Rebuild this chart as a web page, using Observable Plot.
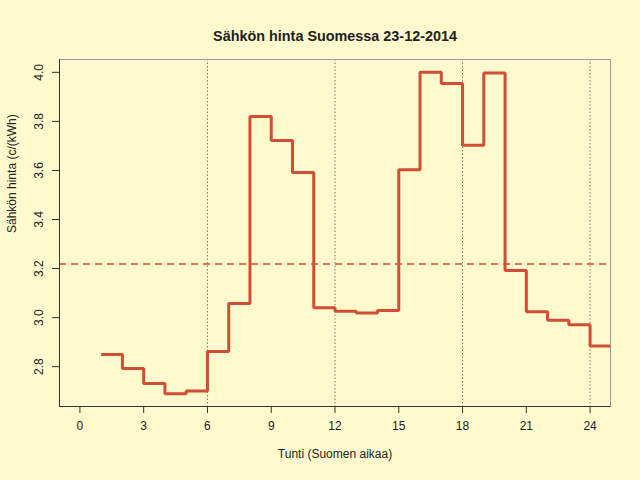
<!DOCTYPE html>
<html><head><meta charset="utf-8">
<script src="https://cdn.jsdelivr.net/npm/d3@7"></script>
<script src="https://cdn.jsdelivr.net/npm/@observablehq/plot@0.6"></script>
<style>
html,body{margin:0;padding:0;background:#FFFACD;}
#chart{width:640px;height:480px;}
</style></head><body><div id="chart"></div>
<script>
const title = "Sähkön hinta Suomessa 23-12-2014";
const xLabel = "Tunti (Suomen aikaa)";
const yLabel = "Sähkön hinta (c/(kWh)";
const hours = [1,2,3,4,5,6,7,8,9,10,11,12,13,14,15,16,17,18,19,20,21,22,23,24];
const prices = [2.850,2.793,2.731,2.690,2.701,2.862,3.058,3.820,3.722,3.592,3.040,3.026,
                3.019,3.029,3.603,4.000,3.955,3.703,3.997,3.192,3.024,2.989,2.971,2.884];
const xTicks = [0,3,6,9,12,15,18,21,24];
const yTicks = [2.8,3.0,3.2,3.4,3.6,3.8,4.0];
const gridHours = [6,12,18,24];
const xLimits = [0,24];

const steps = hours.map((h,i)=>({hour:h, price:prices[i]}));
steps.push({hour: hours[hours.length-1]+1, price: prices[prices.length-1]});
const meanPrice = d3.mean(prices);
const ext = (lo,hi)=>{const d=(hi-lo)*0.04; return [lo-d, hi+d];};
const xDomain = ext(xLimits[0], xLimits[1]);
const yDomain = ext(d3.min(prices), d3.max(prices));

const lineColor = "#D24D35";
const font = "'Liberation Sans', Arial, Helvetica, sans-serif";

const chart = Plot.plot({
  width: 640, height: 480,
  marginLeft: 59, marginRight: 30, marginTop: 59, marginBottom: 74,
  style: {background: "#FFFACD", fontFamily: font, fontSize: "12px", color: "#222"},
  x: {domain: xDomain},
  y: {domain: yDomain},
  marks: [
    Plot.ruleX(gridHours, {stroke: "#777", strokeDasharray: "1.5,2", strokeWidth: 1}),
    Plot.ruleY([meanPrice], {stroke: lineColor, strokeWidth: 1.5, strokeDasharray: "7,5"}),
    Plot.line(steps, {x: "hour", y: "price", curve: "step-after", stroke: lineColor, strokeWidth: 3,
      clip: true, strokeLinejoin: "miter", strokeLinecap: "butt"}),
    Plot.frame({stroke: "#999"}),
    Plot.ruleX([xDomain[0]], {stroke: "#333"}),
    Plot.ruleY([yDomain[0]], {stroke: "#333"}),
    Plot.axisX({ticks: xTicks, tickSize: 7, tickPadding: 8, label: null, stroke: "#333", fill: "#222"}),
    Plot.axisY({ticks: yTicks, tickSize: 7, tickPadding: 10, tickRotate: -90, tickFormat: d3.format(".1f"),
      label: null, stroke: "#333", fill: "#222"}),
    Plot.text([title], {text: d => d, frameAnchor: "top", dy: -29, fontWeight: "bold", fontSize: 14.4, fill: "#222"}),
    Plot.text([xLabel], {text: d => d, frameAnchor: "bottom", dy: 51, fontSize: 12, fill: "#222"}),
    Plot.text([yLabel], {text: d => d, frameAnchor: "left", dx: -47, rotate: -90, fontSize: 12, fill: "#222"})
  ]
});
document.getElementById("chart").appendChild(chart);
</script></body></html>
